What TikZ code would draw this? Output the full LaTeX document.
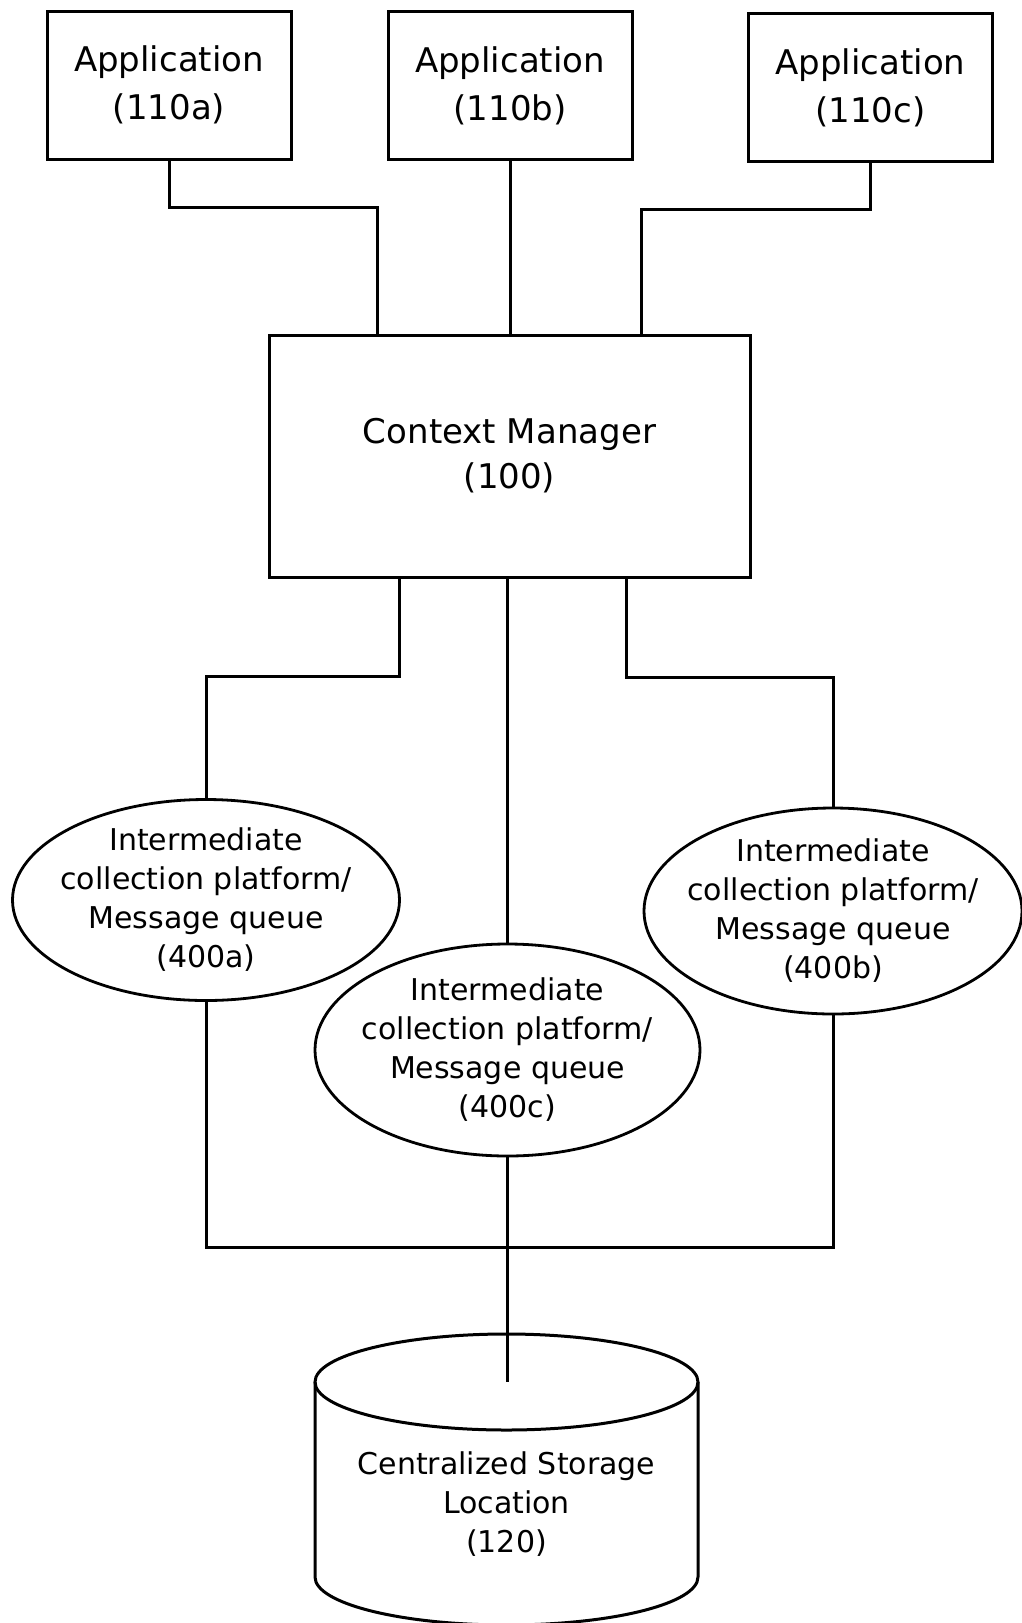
\documentclass[tikz,border=0pt]{standalone}
\usepackage{fontspec}
\setmainfont{DejaVu Sans}
\usetikzlibrary{shapes.geometric}
\begin{document}
\begin{tikzpicture}[x=1pt,y=-1pt,
  wire/.style={line width=3pt, line join=miter},
  appbox/.style={draw, line width=3pt, rectangle, minimum width=244pt, minimum height=148pt, inner sep=0pt, align=center, font=\fontsize{34}{48}\selectfont},
  cmbox/.style={draw, line width=3pt, rectangle, minimum width=481pt, minimum height=242pt, inner sep=0pt, align=center, font=\fontsize{34}{45}\selectfont},
  ell/.style={draw, line width=2.8pt, ellipse, inner sep=0pt},
  elltext/.style={align=center, inner sep=0pt, font=\fontsize{30}{39}\selectfont},
  stortext/.style={align=center, inner sep=0pt, font=\fontsize{30}{39}\selectfont}
]
\fill[white] (0,0) rectangle (1021,1623);
\useasboundingbox (0,0) rectangle (1021,1623);

% applications
\node[appbox] (appa) at (169,85) {Application\\(110a)};
\node[appbox] (appb) at (510,85.5) {Application\\(110b)};
\node[appbox] (appc) at (870.5,87.5) {Application\\(110c)};

% context manager
\node[cmbox] (cm) at (509.5,456) {Context Manager\\(100)};

% message queues
\node[ell, minimum width=387pt, minimum height=201pt] (ea) at (206,900) {};
\node[elltext] (ta) at (ea.center) {Intermediate\\collection platform/\\Message queue\\(400a)};
\node[ell, minimum width=378pt, minimum height=206pt] (eb) at (833,911) {};
\node[elltext] (tb) at (eb.center) {Intermediate\\collection platform/\\Message queue\\(400b)};
\node[ell, minimum width=385pt, minimum height=212pt] (ec) at (507.5,1050) {};
\node[elltext] (tc) at (ec.center) {Intermediate\\collection platform/\\Message queue\\(400c)};

% storage cylinder
\draw[wire] (315,1382) -- (315,1577) arc[start angle=180, end angle=0, x radius=191.5, y radius=48] -- (698,1382);
\draw[wire] (506.5,1382) ellipse[x radius=191.5, y radius=48];
\coordinate (cyltop) at (506.5,1382);
\node[stortext] (stor) at (506.5,1504) {Centralized Storage\\Location\\(120)};

% applications -> context manager
\coordinate (ja) at (377,207);
\draw[wire] (appa.south) |- (ja) -- (cm.north -| ja);
\draw[wire] (appb.south) -- (cm.north -| appb.south);
\coordinate (jc) at (641,209);
\draw[wire] (appc.south) |- (jc) -- (cm.north -| jc);

% context manager -> queues
\coordinate (jd) at (399,676);
\draw[wire] (cm.south -| jd) -- (jd) -| (ea.north);
\draw[wire] (ec.north |- cm.south) -- (ec.north);
\coordinate (je) at (626,677);
\draw[wire] (cm.south -| je) -- (je) -| (eb.north);

% queues -> storage
\coordinate (jf) at (0,1247);
\draw[wire] (ea.south) -- (ea.south |- jf) -| (eb.south);
\draw[wire] (ec.south) -- (ec.south |- cyltop);
\end{tikzpicture}
\end{document}
